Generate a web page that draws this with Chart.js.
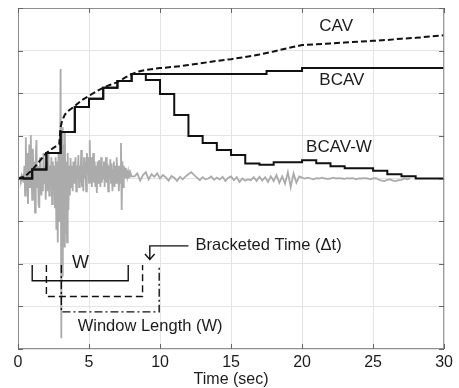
<!DOCTYPE html>
<html><head><meta charset="utf-8">
<script src="https://cdn.jsdelivr.net/npm/chart.js@4"></script>
<style>html,body{margin:0;padding:0;background:#fff}#wrap{width:459px;height:388px;position:relative}</style>
</head><body><div id="wrap"><canvas id="c"></canvas></div>
<script>
// ---------- data ----------
const xTickValues = [0, 5, 10, 15, 20, 25, 30];
const xTitle = 'Time (sec)';

// CAV (dashed, smooth)
const cavT = [0,0.5,1,1.5,2,2.5,2.9,3.0,3.1,3.3,3.6,4,4.5,5,5.5,6,6.5,7,7.5,8,8.5,9,10,11,12,13,14,15,16,17,18,19,20,21,22,23,24,25,26,27,28,29,30];
const cavV = [0,0.05,0.2,0.4,0.6,0.72,0.8,1.2,1.35,1.5,1.6,1.7,1.84,1.94,2.04,2.13,2.2,2.26,2.36,2.45,2.51,2.55,2.59,2.62,2.66,2.71,2.76,2.8,2.85,2.91,2.98,3.06,3.13,3.15,3.17,3.19,3.21,3.23,3.25,3.28,3.3,3.33,3.36];

// BCAV (step: value changes at given time)
const bcavT = [0,1,2,3,4,5,6,7,8,17.5,20,30];
const bcavV = [0,0.21,0.6,1.09,1.68,1.87,2.13,2.29,2.45,2.52,2.59,2.59];

// BCAV-W (step)
const bcavwT = [0,1,2,3,4,5,6,7,8,9,10,11,12,13,14,15,16,17,18,20,21,22,23,25,26,27,28,30];
const bcavwV = [0,0.21,0.6,1.09,1.68,1.87,2.13,2.29,2.45,2.31,1.98,1.49,1.0,0.83,0.67,0.55,0.35,0.32,0.38,0.43,0.36,0.29,0.24,0.18,0.1,0.05,0,0];

// acceleration record (grey): part A from t=0 every 0.05 s, part B from t=8.2 every 0.2 s
const accAStart = 0, accAStep = 0.05;
const accA = [
 0,0,0,0.02,-0.03,0.05,-0.05,0.1,-0.1,
 0.3,-0.4,0.97,-0.3,0.6,-0.6,0.2,0.8,-0.2,1.02,0.1,-0.5,
 0.7,-0.3,0.4,-0.8,0.5,0.9,-0.2,0.3,-0.6,-0.69,
 0.5,0.1,-0.4,0.2,-0.3,0.6,-0.1,0.3,-0.5,0.2,
 0.4,-0.3,0.6,-0.4,0.3,-0.2,0.5,-0.6,0.4,-0.1,
 0.3,-0.7,0.5,-1.2,0.4,-1.5,0.6,-1.0,-0.4,2.57,
 -3.75,1.2,-2.3,0.8,-1.6,1.1,-1.3,0.4,-1.5,0.6,
 -0.74,0.3,-0.4,0.48,-0.2,0.3,-0.3,0.4,-0.1,0.2,
 0.5,-0.3,0.3,0.0,0.55,-0.2,0.3,-0.1,0.67,-0.2,
 0.3,-0.3,0.5,0.0,0.4,-0.3,0.6,0.1,0.5,-0.1,
 0.9,-0.1,0.5,-0.2,0.3,0.6,-0.1,0.4,-0.2,0.3,
 -0.34,0.4,-0.1,0.43,0.2,-0.2,0.5,-0.1,0.3,0.0,
 0.4,-0.2,0.3,0.5,-0.1,0.35,-0.3,0.3,0.0,0.45,
 -0.1,0.35,-0.3,0.2,0.4,-0.2,0.3,-0.1,0.5,0.0,
 0.3,-0.3,0.3,-0.1,0.83,-0.74,0.4,-0.2,0.3,0.0,
 0.25,0.0,0.2,0.05,0.15,0.0,0.12,0.05,0.1,0.05
];
const accBStart = 8.2, accBStep = 0.2;
const accB = [
 0.05,0.12,-0.05,0.08,0.15,-0.02,0.1,0.04,0.12,0.0,
 0.08,0.03,-0.05,0.06,0.02,-0.06,0.04,-0.02,0.05,0.1,
 0.15,0.08,0.02,-0.04,0.03,-0.02,0.0,0.05,-0.03,0.02,
 -0.02,0.04,-0.06,0.02,0.05,-0.04,0.03,-0.08,0.0,-0.05,
 -0.02,-0.04,0.03,-0.06,0.04,-0.05,0.03,-0.08,0.05,-0.06,
 0.08,-0.1,0.05,-0.12,0.15,-0.2,0.12,-0.1,0.05,0.02,
 0.0,0.02,0.0,-0.02,0.01,0.0,0.02,0.0,-0.01,0.0,
 0.02,0.0,0.01,0.0,-0.01,0.01,0.0,0.01,-0.02,0.0,
 0.0,0.01,0.0,-0.02,0.0,0.01,-0.03,-0.05,-0.06,-0.03,
 -0.02,-0.05,-0.06,-0.04,-0.03,0.0,-0.02,0.0
];

// windows (brackets) [start, end] in seconds
const windowW = [1.0, 7.76];
const windowW2 = [2.0, 8.77];
const windowW3 = [3.05, 9.94];

// ---------- annotation layout (data units) ----------
const layoutNotes = {
  bracketTop: -2.03,
  bracketBottoms: [-2.4, -2.77, -3.13],
  arrow: { x0: 12.0, x1: 9.28, y0: -1.58, y1: -1.9, wing: 0.34, wingY: 0.13 },
  texts: [
    { text: 'CAV', x: 22.4, y: 3.56, align: 'center', size: 17 },
    { text: 'BCAV', x: 22.8, y: 2.31, align: 'center', size: 17 },
    { text: 'BCAV-W', x: 22.6, y: 0.74, align: 'center', size: 17 },
    { text: 'W', x: 4.4, y: -1.98, align: 'center', size: 18 },
    { text: 'Bracketed Time (\u0394t)', x: 12.5, y: -1.56, align: 'left', size: 16.5 },
    { text: 'Window Length (W)', x: 4.2, y: -3.48, align: 'left', size: 16.5 }
  ]
};

// ---------- build ----------
const zip = (t, v) => t.map((x, i) => ({ x, y: v[i] }));
const accPts = accA.map((v, i) => ({ x: accAStart + i * accAStep, y: v }))
  .concat(accB.map((v, i) => ({ x: accBStart + i * accBStep, y: v })));

const bracket = (w, yb) => [
  { x: w[0], y: layoutNotes.bracketTop }, { x: w[0], y: yb },
  { x: w[1], y: yb }, { x: w[1], y: layoutNotes.bracketTop }];
const A = layoutNotes.arrow;

const base = { pointRadius: 0, borderColor: '#111', borderWidth: 2, fill: false, tension: 0 };
const datasets = [
  { ...base, label: 'BCAV-W', data: zip(bcavwT, bcavwV), stepped: 'before', order: 1 },
  { ...base, label: 'BCAV', data: zip(bcavT, bcavV), stepped: 'before', order: 2 },
  { ...base, label: 'CAV', data: zip(cavT, cavV), borderDash: [6, 3], order: 0 },
  { ...base, label: 'acc', data: accPts, borderColor: '#ababab', borderWidth: 1.8, order: 10 },
  { ...base, label: 'w1', data: bracket(windowW, layoutNotes.bracketBottoms[0]), borderWidth: 1.4, order: 0 },
  { ...base, label: 'w2', data: bracket(windowW2, layoutNotes.bracketBottoms[1]), borderWidth: 1.4, borderDash: [7, 4], order: 0 },
  { ...base, label: 'w3', data: bracket(windowW3, layoutNotes.bracketBottoms[2]), borderWidth: 1.4, borderDash: [8, 3, 2, 3], order: 0 },
  { ...base, label: 'arrow', data: [{ x: A.x0, y: A.y0 }, { x: A.x1, y: A.y0 }, { x: A.x1, y: A.y1 }], borderWidth: 1.4, order: 0 },
  { ...base, label: 'head', data: [{ x: A.x1 - A.wing, y: A.y1 + A.wingY }, { x: A.x1, y: A.y1 }, { x: A.x1 + A.wing, y: A.y1 + A.wingY }], borderWidth: 1.4, order: 0 }
];

const FONT = "'Liberation Sans', Arial, sans-serif";
const overlay = {
  id: 'overlay',
  afterDatasetsDraw(chart) {
    const { ctx, chartArea: a, scales: { x, y } } = chart;
    ctx.save();
    ctx.strokeStyle = '#8f8f8f'; ctx.lineWidth = 1;
    ctx.strokeRect(a.left + 0.5, a.top + 0.5, a.width - 1, a.height - 1);
    ctx.strokeStyle = '#666';
    ctx.beginPath();
    x.ticks.forEach(t => {
      const px = Math.round(x.getPixelForValue(t.value)) + 0.5;
      ctx.moveTo(px, a.bottom); ctx.lineTo(px, a.bottom - 5);
      ctx.moveTo(px, a.top); ctx.lineTo(px, a.top + 5);
    });
    y.ticks.forEach(t => {
      const py = Math.round(y.getPixelForValue(t.value)) + 0.5;
      ctx.moveTo(a.left, py); ctx.lineTo(a.left + 5, py);
      ctx.moveTo(a.right, py); ctx.lineTo(a.right - 5, py);
    });
    ctx.stroke();
    ctx.fillStyle = '#1c1c1c'; ctx.textBaseline = 'middle';
    layoutNotes.texts.forEach(t => {
      ctx.font = t.size + 'px ' + FONT;
      ctx.textAlign = t.align;
      ctx.fillText(t.text, x.getPixelForValue(t.x), y.getPixelForValue(t.y));
    });
    ctx.restore();
  }
};

new Chart(document.getElementById('c'), {
  type: 'line',
  data: { datasets },
  options: {
    responsive: true, maintainAspectRatio: false, animation: false,
    layout: { padding: { top: 8, right: 6, left: 0, bottom: 0 } },
    plugins: { legend: { display: false }, tooltip: { enabled: false } },
    scales: {
      x: {
        type: 'linear', min: 0, max: 30,
        afterBuildTicks: s => { s.ticks = xTickValues.map(v => ({ value: v })); },
        afterFit: s => { s.height = 39; },
        grid: { color: '#e4e4e4', drawTicks: false },
        border: { display: false },
        ticks: { padding: 6, color: '#1c1c1c', font: { family: FONT, size: 16, lineHeight: 1 }, maxRotation: 0 },
        title: { display: true, text: xTitle, color: '#1c1c1c', font: { family: FONT, size: 16, lineHeight: 1 }, padding: { top: 0, bottom: 0 } }
      },
      y: {
        type: 'linear', min: -4, max: 4,
        ticks: { display: false, stepSize: 1 },
        afterFit: s => { s.width = 18; },
        grid: { color: '#e4e4e4', drawTicks: false },
        border: { display: false }
      }
    }
  },
  plugins: [overlay]
});
</script>
</body></html>
